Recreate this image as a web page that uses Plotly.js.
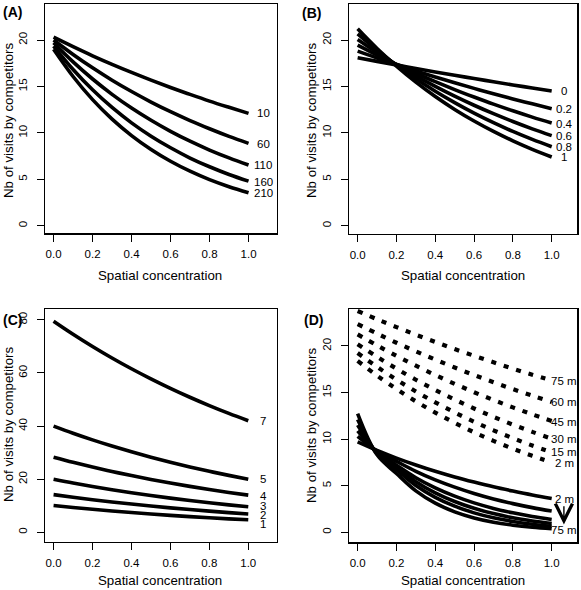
<!DOCTYPE html>
<html><head><meta charset="utf-8">
<script src="https://cdn.plot.ly/plotly-3.0.1.min.js"></script>
<style>html,body{margin:0;padding:0;background:#fff;} #chart{width:581px;height:590px;}</style>
</head><body><div id="chart"></div>
<script>
// ---------- DATA ----------
const concentration = [0,0.1,0.2,0.3,0.4,0.5,0.6,0.7,0.8,0.9,1.0];
const xTickVals = [0,0.2,0.4,0.6,0.8,1.0];
const xTickText = ['0.0','0.2','0.4','0.6','0.8','1.0'];
const yTicksA = [0,5,10,15,20];
const yTicksC = [0,20,40,60,80];

// Panel A
const labelsA = ['10','60','110','160','210'];
const visitsA10  = [20.3,19.28,18.3,17.38,16.51,15.68,14.89,14.14,13.42,12.75,12.1];
const visitsA60  = [20.0,18.44,17.0,15.67,14.45,13.32,12.28,11.32,10.44,9.62,8.87];
const visitsA110 = [19.7,17.64,15.8,14.15,12.67,11.35,10.16,9.1,8.15,7.3,6.53];
const visitsA160 = [19.35,16.83,14.64,12.74,11.08,9.64,8.39,7.29,6.35,5.52,4.8];
const visitsA210 = [19.0,16.07,13.58,11.48,9.71,8.21,6.94,5.87,4.96,4.2,3.55];

// Panel B
const labelsB = ['0','0.2','0.4','0.6','0.8','1'];
const visitsB0  = [18.1,17.7,17.32,16.94,16.56,16.2,15.85,15.5,15.16,14.83,14.5];
const visitsB02 = [18.8,18.06,17.36,16.67,16.02,15.39,14.79,14.21,13.65,13.12,12.6];
const visitsB04 = [19.45,18.38,17.37,16.42,15.51,14.66,13.86,13.09,12.37,11.69,11.05];
const visitsB06 = [20.05,18.65,17.34,16.13,15.0,13.95,12.97,12.06,11.22,10.43,9.7];
const visitsB08 = [20.65,18.9,17.29,15.82,14.48,13.25,12.12,11.09,10.15,9.29,8.5];
const visitsB1  = [21.2,19.08,17.18,15.46,13.91,12.52,11.27,10.15,9.13,8.22,7.4];

// Panel C
const labelsC = ['7','5','4','3','2','1'];
const visitsC7 = [79.5,74.59,69.98,65.65,61.59,57.79,54.21,50.86,47.72,44.77,42.0];
const visitsC5 = [40,37.32,34.82,32.49,30.31,28.28,26.39,24.62,22.97,21.44,20.0];
const visitsC4 = [28.3,26.38,24.58,22.91,21.36,19.91,18.55,17.29,16.12,15.02,14.0];
const visitsC3 = [20,18.58,17.27,16.05,14.91,13.86,12.88,11.96,11.12,10.33,9.6];
const visitsC2 = [14.2,13.21,12.29,11.44,10.64,9.9,9.21,8.57,7.97,7.42,6.9];
const visitsC1 = [10.1,9.36,8.67,8.03,7.44,6.89,6.38,5.91,5.48,5.07,4.7];

// Panel D (dashed)
const labelsDdash = ['75 m','60 m','45 m','30 m','15 m','2 m'];
const visitsD75dash = [23.75,22.87,22.03,21.21,20.43,19.67,18.95,18.25,17.57,16.92,16.3];
const visitsD60dash = [22.35,21.33,20.35,19.42,18.54,17.69,16.88,16.11,15.37,14.67,14.0];
const visitsD45dash = [21.25,20.06,18.94,17.88,16.88,15.94,15.04,14.2,13.41,12.66,11.95];
const visitsD30dash = [20.2,18.84,17.57,16.38,15.28,14.25,13.29,12.39,11.56,10.78,10.05];
const visitsD15dash = [19.25,17.76,16.39,15.12,13.95,12.87,11.87,10.95,10.1,9.32,8.6];
const visitsD2dash  = [18.4,16.82,15.38,14.06,12.85,11.75,10.74,9.82,8.98,8.21,7.5];
// Panel D (solid)
const labelsDsolid = ['2 m','75 m'];
const visitsD2solid  = [9.7,8.79,7.97,7.23,6.55,5.94,5.39,4.88,4.43,4.01,3.64];
const visitsD15solid = [10.3,8.72,7.62,6.55,5.63,4.85,4.17,3.58,3.08,2.65,2.28];
const visitsD30solid = [10.9,8.62,7.21,5.86,4.77,3.88,3.16,2.57,2.09,1.7,1.38];
const visitsD45solid = [11.5,8.52,6.98,5.44,4.24,3.31,2.58,2.01,1.56,1.22,0.95];
const visitsD60solid = [12.1,8.42,6.74,5.03,3.76,2.81,2.09,1.56,1.17,0.87,0.65];
const visitsD75solid = [12.75,8.32,6.32,4.45,3.13,2.2,1.55,1.09,0.77,0.54,0.38];

// ---------- LAYOUT HELPERS ----------
const W = 581, H = 590;
const FONT = 'Liberation Sans, Arial, Helvetica, sans-serif';
const fx = p => p / W;
const fy = p => 1 - p / H;

const traces = [];
function addLine(axN, ys, dash) {
  const s = axN === 1 ? '' : String(axN);
  traces.push({
    type: 'scatter', mode: 'lines', x: concentration, y: ys,
    xaxis: 'x' + s, yaxis: 'y' + s,
    line: {color: '#000', width: dash ? 4.2 : 3.6, shape: 'spline', smoothing: 1, dash: dash ? '5px,8px' : 'solid'},
    hoverinfo: 'skip', showlegend: false
  });
}
[visitsA10, visitsA60, visitsA110, visitsA160, visitsA210].forEach(v => addLine(1, v));
[visitsB0, visitsB02, visitsB04, visitsB06, visitsB08, visitsB1].forEach(v => addLine(2, v));
[visitsC7, visitsC5, visitsC4, visitsC3, visitsC2, visitsC1].forEach(v => addLine(3, v));
[visitsD75dash, visitsD60dash, visitsD45dash, visitsD30dash, visitsD15dash, visitsD2dash].forEach(v => addLine(4, v, true));
[visitsD2solid, visitsD15solid, visitsD30solid, visitsD45solid, visitsD60solid, visitsD75solid].forEach(v => addLine(4, v));

function xAxis(dom, range, anchor) {
  return {domain: [fx(dom[0]), fx(dom[1])], range: range, anchor: anchor,
    tickvals: xTickVals, ticktext: xTickText, ticks: 'outside', ticklen: 7, tickwidth: 1, tickcolor: '#000',
    ticklabelstandoff: 3,
    showline: true, mirror: true, linecolor: '#000', linewidth: 1.3, showgrid: false, zeroline: false,
    tickfont: {family: FONT, size: 11.5, color: '#000'}, fixedrange: true};
}
function yAxis(dom, range, anchor, tv) {
  return {domain: [fy(dom[1]), fy(dom[0])], range: range, anchor: anchor,
    tickvals: tv, ticktext: tv.map(String), ticks: 'outside', ticklen: 7, tickwidth: 1, tickcolor: '#000', tickangle: -90,
    ticklabelstandoff: 5,
    showline: true, mirror: true, linecolor: '#000', linewidth: 1.3, showgrid: false, zeroline: false,
    tickfont: {family: FONT, size: 11.5, color: '#000'}, fixedrange: true};
}

const annotations = [];
function txt(x, y, text, xref, yref, opts) {
  annotations.push(Object.assign({x: x, y: y, xref: xref, yref: yref, text: text, showarrow: false,
    xanchor: 'center', yanchor: 'middle', font: {family: FONT, size: 11.5, color: '#000'}}, opts || {}));
}
// panel letters
[['(A)', 12, 12], ['(B)', 311, 13], ['(C)', 12, 320], ['(D)', 313, 320]].forEach(p =>
  txt(fx(p[1]), fy(p[2]), '<b>' + p[0] + '</b>', 'paper', 'paper', {font: {family: FONT, size: 14, color: '#000'}}));
// axis titles
[[160, 275], [463, 275], [160, 580], [463, 580]].forEach(p =>
  txt(fx(p[0]), fy(p[1]), 'Spatial concentration', 'paper', 'paper', {font: {family: FONT, size: 13.3, color: '#000'}}));
[[8, 120], [311, 120], [8, 424], [311, 425]].forEach(p =>
  txt(fx(p[0]), fy(p[1]), 'Nb of visits by competitors', 'paper', 'paper', {textangle: -90, font: {family: FONT, size: 13.3, color: '#000'}}));

// line labels (text placement)
const labelYA = [12.1, 8.85, 6.5, 4.75, 3.5];
labelsA.forEach((t, i) => txt(1.075, labelYA[i], t, 'x', 'y'));
const labelYB = [14.5, 12.6, 11.0, 9.65, 8.5, 7.35];
labelsB.forEach((t, i) => txt(1.065, labelYB[i], t, 'x2', 'y2'));
const labelYC = [41.8, 20.0, 13.7, 9.8, 6.7, 3.2];
labelsC.forEach((t, i) => txt(1.077, labelYC[i], t, 'x3', 'y3'));
const labelYDdash = [16.24, 14.0, 11.87, 9.98, 8.58, 7.4];
labelsDdash.forEach((t, i) => txt(1.065, labelYDdash[i], t, 'x4', 'y4'));
const labelYDsolid = [3.57, 0.25];
labelsDsolid.forEach((t, i) => txt(1.065, labelYDsolid[i], t, 'x4', 'y4'));
// arrow in D
annotations.push({x: 1.063, y: 0.85, xref: 'x4', yref: 'y4', ax: 1.063, ay: 2.95, axref: 'x4', ayref: 'y4',
  showarrow: true, arrowhead: 5, arrowsize: 2.4, arrowwidth: 1.4, arrowcolor: '#000', text: ''});

const layout = {
  width: W, height: H, margin: {l: 0, r: 0, t: 0, b: 0},
  paper_bgcolor: '#fff', plot_bgcolor: '#fff', showlegend: false,
  xaxis:  xAxis([45, 277], [-0.044, 1.146], 'y'),
  yaxis:  yAxis([4, 233.3], [-0.82, 23.88], 'x', yTicksA),
  xaxis2: xAxis([349.3, 577.3], [-0.043, 1.132], 'y2'),
  yaxis2: yAxis([4, 234], [-0.9, 23.88], 'x2', yTicksA),
  xaxis3: xAxis([45, 276.7], [-0.044, 1.146], 'y3'),
  yaxis3: yAxis([309, 541.7], [-3.54, 84.1], 'x3', yTicksC),
  xaxis4: xAxis([349.3, 577.3], [-0.043, 1.132], 'y4'),
  yaxis4: yAxis([309, 542.3], [-1.07, 23.97], 'x4', yTicksA),
  annotations: annotations
};
Plotly.newPlot('chart', traces, layout, {staticPlot: true, displayModeBar: false});
</script></body></html>
